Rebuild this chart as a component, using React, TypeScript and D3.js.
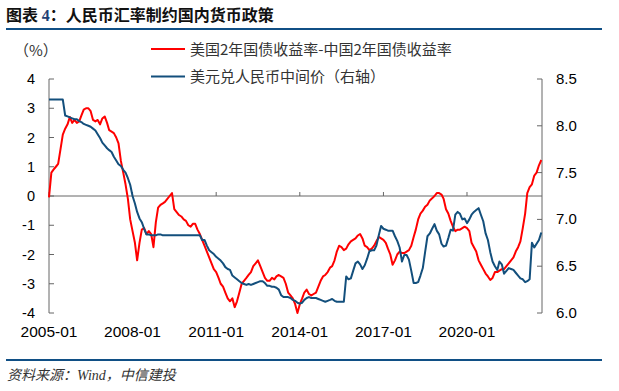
import * as d3 from "d3";
import React from "react";

// monthly, 2005-01 .. 2022-09
const spread: number[] = [
  -0.05, 0.8, 0.9, 1.0, 1.1, 1.6, 2.1, 2.3, 2.45, 2.7, 2.5, 2.6,
  2.5, 2.55, 2.75, 2.95, 3.0, 3.0, 2.9, 2.6, 2.55, 2.6, 2.45, 2.65,
  2.72, 2.5, 2.25, 2.2, 2.15, 2.0, 1.8, 1.2, 0.8, 0.4, -0.1, -0.8,
  -1.2, -1.6, -2.2, -1.6, -1.15, -1.1, -1.3, -1.2, -1.3, -1.75, -0.9, -0.4,
  -0.3, -0.25, -0.2, -0.1, 0.0, 0.1, -0.45, -0.55, -0.65, -0.7, -0.8, -0.85,
  -1.0, -1.05, -0.95, -0.95, -1.15, -1.3, -1.5, -1.7, -1.9, -2.1, -2.3, -2.5,
  -2.6, -2.8, -3.0, -3.1, -3.3, -3.5, -3.6, -3.5, -3.8, -3.6, -3.3, -3.0,
  -2.9, -2.8, -2.7, -2.6, -2.4, -2.3, -2.2, -2.4, -2.6, -2.8, -2.9, -2.9,
  -2.8, -2.85, -2.75, -2.7, -2.75, -2.8, -3.0, -3.3, -3.4, -3.5, -3.7, -4.0,
  -3.7, -3.5, -3.3, -3.2, -3.35, -3.4, -3.35, -3.3, -3.1, -2.9, -2.75, -2.7,
  -2.6, -2.45, -2.4, -2.2, -1.9, -1.7, -1.75, -1.85, -1.8, -1.65, -1.55, -1.5,
  -1.45, -1.35, -1.3, -1.45, -1.7, -1.75, -1.85, -1.8, -1.7, -1.55, -1.4, -1.45,
  -1.5, -1.6, -1.8, -2.0, -2.35, -2.2, -2.0, -1.9, -1.95, -1.95, -1.9, -1.85,
  -1.7, -1.4, -1.15, -0.8, -0.6, -0.5, -0.37, -0.3, -0.15, -0.08, 0.0, 0.1,
  0.1, 0.05, -0.1, -0.45, -0.6, -0.85, -1.05, -1.2, -1.15, -1.15, -1.1, -1.05,
  -1.1, -1.2, -1.6, -1.75, -1.9, -2.2, -2.35, -2.5, -2.65, -2.75, -2.87, -2.8,
  -2.6, -2.6, -2.55, -2.5, -2.5, -2.4, -2.3, -2.2, -2.1, -1.9, -1.75, -1.55,
  -1.1, -0.6, 0.1, 0.3, 0.4, 0.7, 0.8, 1.05, 1.23,
];

const usdcny: number[] = [
  8.28, 8.28, 8.28, 8.28, 8.28, 8.28, 8.28, 8.11, 8.10, 8.09, 8.08, 8.07,
  8.07, 8.05, 8.04, 8.02, 8.01, 8.00, 7.99, 7.97, 7.95, 7.91, 7.87, 7.82,
  7.79, 7.76, 7.74, 7.72, 7.67, 7.63, 7.59, 7.57, 7.53, 7.50, 7.44, 7.37,
  7.25, 7.17, 7.08, 7.01, 6.97, 6.90, 6.84, 6.84, 6.83, 6.83, 6.83, 6.84,
  6.84, 6.83, 6.83, 6.83, 6.83, 6.83, 6.83, 6.83, 6.83, 6.83, 6.83, 6.83,
  6.83, 6.83, 6.83, 6.83, 6.83, 6.83, 6.78, 6.78, 6.72, 6.67, 6.65, 6.63,
  6.60, 6.58, 6.56, 6.53, 6.49, 6.47, 6.46, 6.40, 6.38, 6.36, 6.34, 6.32,
  6.31, 6.30, 6.31, 6.30, 6.31, 6.32, 6.33, 6.34, 6.34, 6.32, 6.29, 6.29,
  6.28, 6.28, 6.27, 6.25, 6.19, 6.17, 6.17, 6.17, 6.16, 6.14, 6.13, 6.11,
  6.10, 6.11, 6.14, 6.16, 6.17, 6.16, 6.16, 6.16, 6.15, 6.14, 6.13, 6.12,
  6.13, 6.14, 6.15, 6.13, 6.12, 6.12, 6.12, 6.12, 6.39, 6.36, 6.37, 6.45,
  6.53, 6.55, 6.52, 6.47, 6.51, 6.58, 6.66, 6.67, 6.67, 6.72, 6.83, 6.93,
  6.90, 6.89, 6.88, 6.88, 6.88, 6.82, 6.77, 6.70, 6.55, 6.62, 6.62, 6.57,
  6.45, 6.32, 6.32, 6.33, 6.40, 6.48, 6.65, 6.82, 6.85, 6.90, 6.95, 6.88,
  6.84, 6.74, 6.71, 6.72, 6.80, 6.89, 6.88, 7.05, 7.08, 7.06, 7.00, 7.01,
  6.96, 7.00, 7.05, 7.08, 7.10, 7.12, 7.05, 6.98, 6.85, 6.78, 6.65, 6.55,
  6.50, 6.46, 6.55, 6.52, 6.42, 6.45, 6.48, 6.47, 6.46, 6.43, 6.40, 6.37,
  6.36, 6.33, 6.34, 6.36, 6.75, 6.70, 6.74, 6.78, 6.86,
];

const leftTicks = [4, 3, 2, 1, 0, -1, -2, -3, -4];
const rightTicks = [8.5, 8.0, 7.5, 7.0, 6.5, 6.0];
const xTickLabels = ["2005-01", "2008-01", "2011-01", "2014-01", "2017-01", "2020-01"];
const seriesNames = ["美国2年国债收益率-中国2年国债收益率", "美元兑人民币中间价（右轴）"];

const RED = "#ff0000";
const BLUE = "#134f7c";
const NAVY = "#104f85";
const AXIS = "#666";
const latin = "'Liberation Sans', Arial, sans-serif";
const cjk = "'Noto Sans CJK SC', sans-serif";

const App: React.FC = () => {
  const width = 619, height = 391;
  const months = d3.timeMonth.range(new Date(2005, 0, 1), new Date(2022, 9, 1));
  const parse = d3.timeParse("%Y-%m");

  const x = d3.scaleTime().domain([new Date(2005, 0, 1), new Date(2022, 8, 10)]).range([49, 542]);
  const yL = d3.scaleLinear().domain([-4, 4]).range([313, 79]);
  const yR = d3.scaleLinear().domain([6, 8.5]).range([313, 79]);

  const redLine = d3.line<number>().x((_, i) => x(months[i])).y(d => yL(d))(spread)!;
  const blueLine = d3.line<number>().x((_, i) => x(months[i])).y(d => yR(d))(usdcny)!;
  const y0 = yL(0);

  return (
    <svg width={width} height={height} style={{ position: "absolute", left: 0, top: 0, background: "white" }}>
      {/* title */}
      <text x={6} y={21} fontFamily={cjk} fontWeight={700} fontSize={16} fill="#111">
        图表 <tspan fill="#1f3f73" fontFamily="'Liberation Serif', serif">4</tspan>：人民币汇率制约国内货币政策
      </text>
      <line x1={6} x2={602} y1={29} y2={29} stroke={NAVY} strokeWidth={2} />

      <text x={14} y={56} fontFamily={cjk} fontSize={15} fill="#333">（%）</text>

      {/* legend */}
      {seriesNames.map((n, i) => (
        <g key={n} transform={`translate(151, ${49 + i * 27.5})`}>
          <line x1={0} x2={34} y1={0} y2={0} stroke={i === 0 ? RED : BLUE} strokeWidth={2} />
          <text x={39} y={5.5} fontFamily={cjk} fontSize={15} fill="#333">{n}</text>
        </g>
      ))}

      {/* left axis */}
      <line x1={49} x2={49} y1={79} y2={313} stroke={AXIS} />
      {leftTicks.map(t => (
        <g key={t}>
          <line x1={49} x2={54} y1={yL(t)} y2={yL(t)} stroke={AXIS} />
          <text x={35} y={yL(t) + 5} textAnchor="end" fontFamily={latin} fontSize={14.5} fill="#000">{String(t)}</text>
        </g>
      ))}

      {/* right axis */}
      <line x1={542} x2={542} y1={79} y2={313} stroke={AXIS} />
      {rightTicks.map(t => (
        <g key={t}>
          <line x1={537} x2={542} y1={yR(t)} y2={yR(t)} stroke={AXIS} />
          <text x={556} y={yR(t) + 5} fontFamily={latin} fontSize={15} fill="#000">{d3.format(".1f")(t)}</text>
        </g>
      ))}

      {/* zero line + date ticks */}
      <line x1={49} x2={542} y1={y0} y2={y0} stroke={AXIS} />
      {xTickLabels.map(l => {
        const xp = x(parse(l)!);
        return (
          <g key={l}>
            <line x1={xp} x2={xp} y1={y0} y2={y0 - 4} stroke={AXIS} />
            <text x={xp} y={337} textAnchor="middle" fontFamily={latin} fontSize={15.5} fill="#000">{l}</text>
          </g>
        );
      })}

      <path d={redLine} fill="none" stroke={RED} strokeWidth={2} strokeLinejoin="round" />
      <path d={blueLine} fill="none" stroke={BLUE} strokeWidth={2} strokeLinejoin="round" />

      {/* footer */}
      <line x1={6} x2={602} y1={360} y2={360} stroke={NAVY} strokeWidth={2} />
      <text x={7} y={380} fontFamily="'Liberation Serif', 'Noto Sans CJK SC', serif" fontStyle="italic" fontSize={14} fill="#333">
        资料来源：Wind，中信建投
      </text>
    </svg>
  );
};

export default App;
